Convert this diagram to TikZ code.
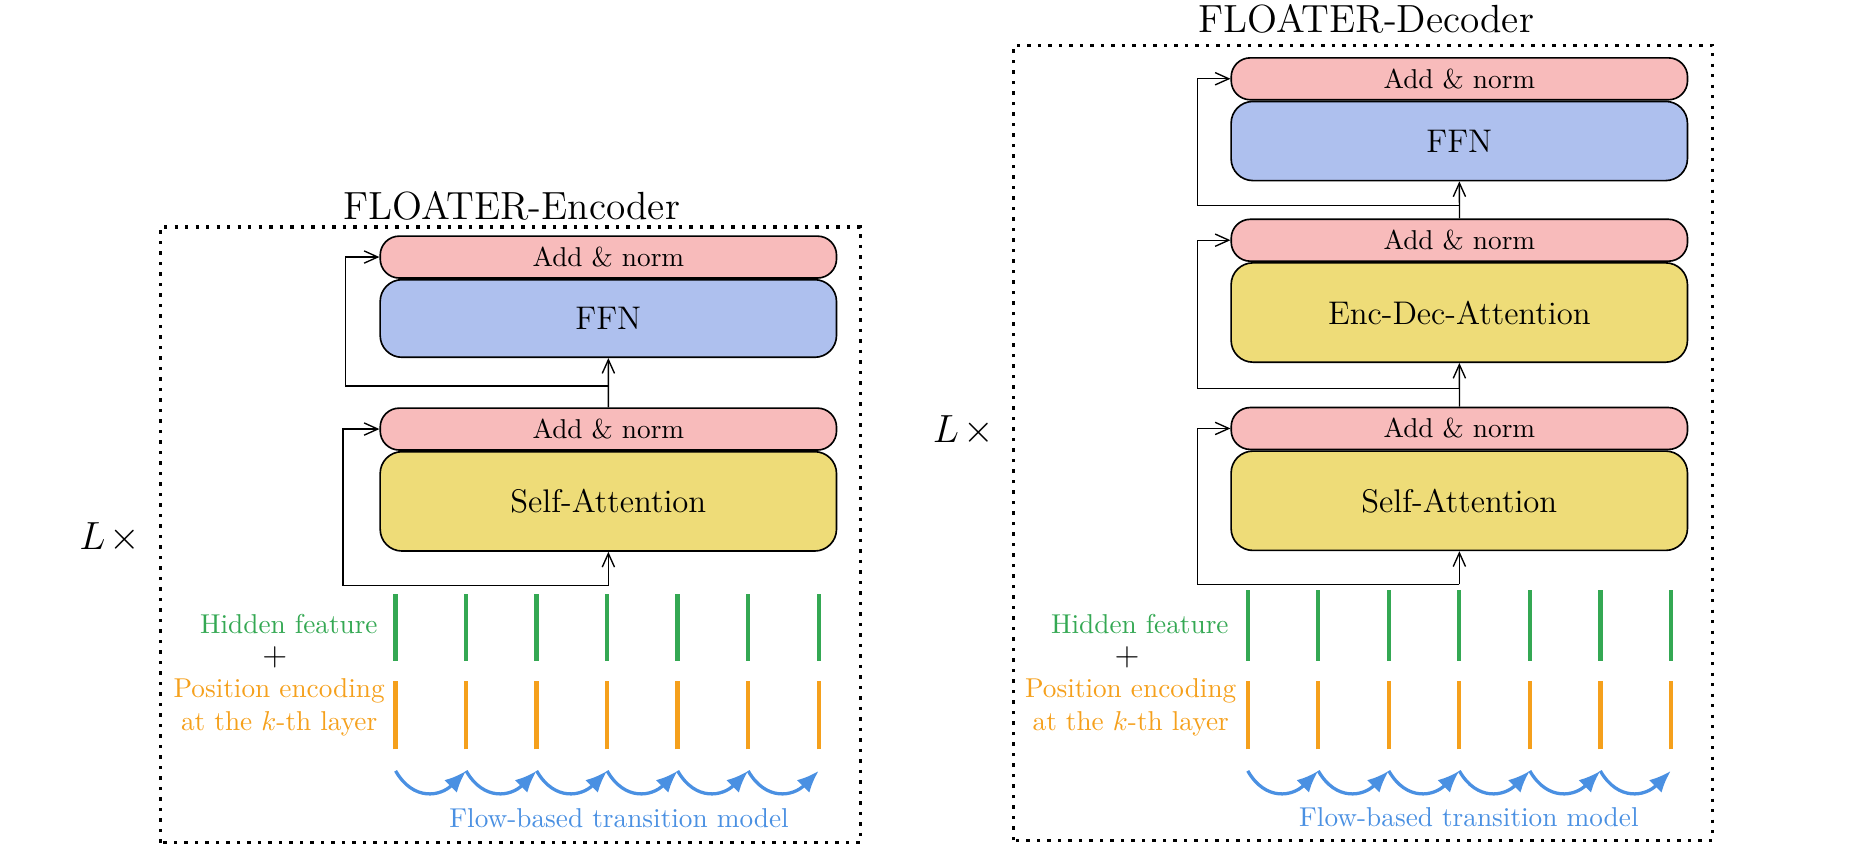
\documentclass[tikz,border=0pt]{standalone}
\usetikzlibrary{positioning,arrows.meta}

\definecolor{addpink}{RGB}{248,187,187}
\definecolor{ffnblue}{RGB}{174,192,238}
\definecolor{attyellow}{RGB}{238,220,120}
\definecolor{hidgreen}{RGB}{52,168,83}
\definecolor{posorange}{RGB}{245,160,28}
\definecolor{flowblue}{RGB}{74,144,226}

\tikzset{
    addbox/.style={draw, semithick, rounded corners=7pt, fill=addpink, minimum width=5.88cm, minimum height=0.54cm, inner sep=0pt},
    mainbox/.style={draw, semithick, rounded corners=8pt, minimum width=5.88cm, inner sep=0pt, font=\large},
    dotbox/.style={line width=1.2pt, dash pattern=on 1.2pt off 2.65pt},
    skip/.style={line width=0.5pt, -{Straight Barb[length=5pt,width=4.5pt]}},
    hidbar/.style={hidgreen, line width=1.6pt},
    posbar/.style={posorange, line width=1.6pt},
    flow/.style={flowblue, line width=1.2pt, -{Latex[length=8pt,width=6.5pt]}},
}

\begin{document}
\begin{tikzpicture}[scale=0.77]
        \useasboundingbox (0, 0) rectangle (31.36, 14.2);

        % Encoder
        \draw[dotbox] (2.68, 0.1) rectangle (14.4, 10.4);
        \node[font=\Large] (enctitle) at (8.56, 10.76) {FLOATER-Encoder};
        \node[font=\Large] (encL) at (1.84, 5.2) {$L\mkern2mu\times$};

        \node[mainbox, fill=attyellow, minimum height=1.28cm] (encsa) at (10.18, 5.81) {Self-Attention};
        \node[addbox, above=0pt of encsa] (encan1) {Add \& norm};
        \node[mainbox, fill=ffnblue, minimum height=1cm] (encffn) at (10.18, 8.87) {FFN};
        \node[addbox, above=0pt of encffn] (encan2) {Add \& norm};

        % Residual paths
        \coordinate (encs1) at (10.18, 4.4);
        \coordinate (encb1) at (5.74, 4.4);
        \coordinate (encs2) at (10.18, 7.74);
        \coordinate (encb2) at (5.78, 7.74);
        \draw[skip] (encs1) -- (encsa.south);
        \draw[skip] (encs1) -- (encb1) |- (encan1.west);
        \draw[skip] (encan1.north) -- (encffn.south);
        \draw[skip] (encs2) -- (encb2) |- (encan2.west);

        % Features and flow
        \foreach \i in {0,...,6} {
            \draw[hidbar] ({6.62+1.18*\i}, 3.14) -- ++(0, 1.12);
            \draw[posbar] ({6.62+1.18*\i}, 1.66) -- ++(0, 1.14);
        }
        \foreach \i in {0,...,5}
            \draw[flow] ({6.62+1.18*\i}, 1.3) to[out=-60, in=-135, looseness=1.3] ({7.80+1.18*\i}, 1.3);

        \node[text=hidgreen, anchor=east] (enchid) at (6.48, 3.76) {Hidden feature};
        \node[font=\large] (encplus) at (4.60, 3.20) {$+$};
        \node[text=posorange, anchor=east, align=center] (encpos) at (6.60, 2.36) {Position encoding\\at the $k$-th layer};
        \node[text=flowblue] (encflow) at (10.36, 0.5) {Flow-based transition model};

        % Decoder
        \draw[dotbox] (16.96, 0.14) rectangle (28.66, 13.44);
        \node[font=\Large] (dectitle) at (22.86, 13.88) {FLOATER-Decoder};
        \node[font=\Large] (decL) at (16.12, 7.0) {$L\mkern2mu\times$};

        \node[mainbox, fill=attyellow, minimum height=1.28cm] (decsa) at (24.42, 5.82) {Self-Attention};
        \node[addbox, above=0pt of decsa] (decan1) {Add \& norm};
        \node[mainbox, fill=attyellow, minimum height=1.28cm] (decea) at (24.42, 8.97) {Enc-Dec-Attention};
        \node[addbox, above=0pt of decea] (decan2) {Add \& norm};
        \node[mainbox, fill=ffnblue, minimum height=1.02cm] (decffn) at (24.42, 11.84) {FFN};
        \node[addbox, above=0pt of decffn] (decan3) {Add \& norm};

        % Residual paths
        \coordinate (decs1) at (24.42, 4.42);
        \coordinate (decb1) at (20.04, 4.42);
        \coordinate (decs2) at (24.42, 7.70);
        \coordinate (decb2) at (20.04, 7.70);
        \coordinate (decs3) at (24.42, 10.76);
        \coordinate (decb3) at (20.04, 10.76);
        \draw[skip] (decs1) -- (decsa.south);
        \draw[skip] (decs1) -- (decb1) |- (decan1.west);
        \draw[skip] (decan1.north) -- (decea.south);
        \draw[skip] (decs2) -- (decb2) |- (decan2.west);
        \draw[skip] (decan2.north) -- (decffn.south);
        \draw[skip] (decs3) -- (decb3) |- (decan3.west);

        % Features and flow
        \foreach \i in {0,...,6} {
            \draw[hidbar] ({20.88+1.18*\i}, 3.14) -- ++(0, 1.18);
            \draw[posbar] ({20.88+1.18*\i}, 1.66) -- ++(0, 1.14);
        }
        \foreach \i in {0,...,5}
            \draw[flow] ({20.88+1.18*\i}, 1.3) to[out=-60, in=-135, looseness=1.3] ({22.06+1.18*\i}, 1.3);

        \node[text=hidgreen, anchor=east] (dechid) at (20.72, 3.76) {Hidden feature};
        \node[font=\large] (decplus) at (18.86, 3.20) {$+$};
        \node[text=posorange, anchor=east, align=center] (decpos) at (20.85, 2.36) {Position encoding\\at the $k$-th layer};
        \node[text=flowblue] (decflow) at (24.58, 0.52) {Flow-based transition model};

    \end{tikzpicture}
\end{document}
